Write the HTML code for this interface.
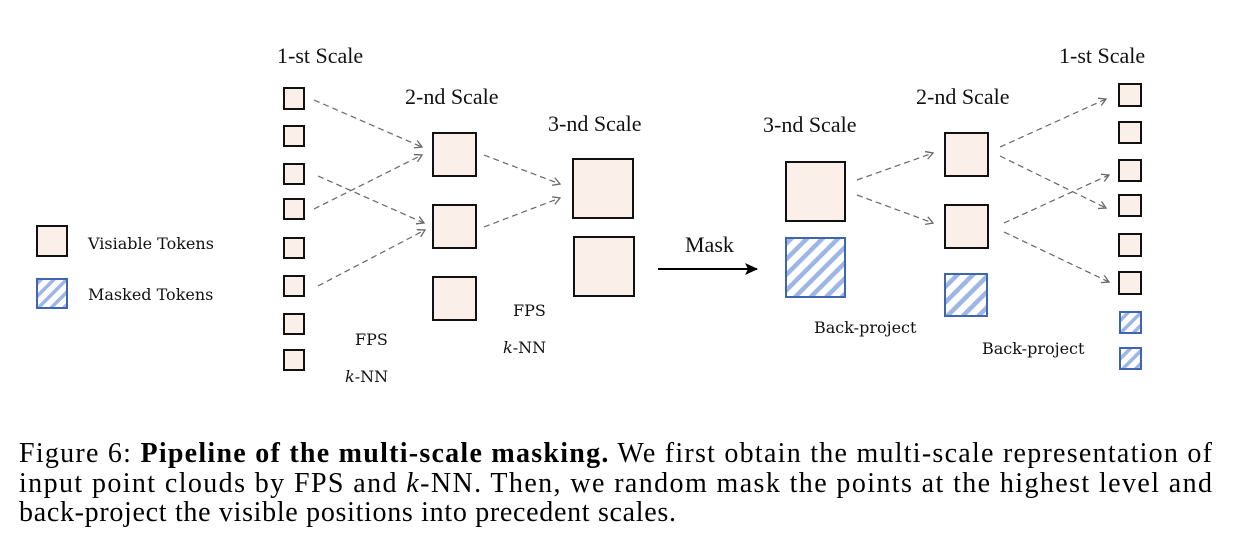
<!DOCTYPE html>
<html><head><meta charset="utf-8"><style>
html,body{margin:0;padding:0;background:#fff;}
svg{display:block;}
</style></head><body>
<svg width="1234" height="539" viewBox="0 0 1234 539" xmlns="http://www.w3.org/2000/svg">
<defs>
<pattern id="h" patternUnits="userSpaceOnUse" width="11" height="11" patternTransform="rotate(45)">
<rect width="11" height="11" fill="#fff"/>
<rect x="0" y="0" width="4.5" height="11" fill="#9db6e6"/>
</pattern>
<pattern id="hs" patternUnits="userSpaceOnUse" width="9" height="9" patternTransform="rotate(45)">
<rect width="9" height="9" fill="#fff"/>
<rect x="0" y="0" width="3.5" height="9" fill="#9db6e6"/>
</pattern>
<marker id="a" markerWidth="10" markerHeight="10" refX="8" refY="5" orient="auto" markerUnits="userSpaceOnUse">
<path d="M1,1 L8,5 L1,9" fill="none" stroke="#666" stroke-width="1.3"/>
</marker>
<marker id="b" markerWidth="14" markerHeight="12" refX="12" refY="6" orient="auto" markerUnits="userSpaceOnUse">
<path d="M0,0 L13,6 L0,12 L3,6 Z" fill="#000"/>
</marker>
</defs>
<g font-family="Liberation Serif, serif" fill="#111">
<g font-size="22">
<text x="277" y="63">1-st Scale</text>
<text x="405" y="104">2-nd Scale</text>
<text x="548" y="131">3-nd Scale</text>
<text x="763" y="132">3-nd Scale</text>
<text x="916" y="104">2-nd Scale</text>
<text x="1059" y="63">1-st Scale</text>
<text x="685" y="252">Mask</text>
</g>
<g font-size="16" font-family="DejaVu Serif, serif">
<text x="88" y="249">Visiable Tokens</text>
<text x="88" y="300">Masked Tokens</text>
<text x="355" y="345">FPS</text>
<text x="345" y="382"><tspan font-style="italic">k</tspan>-NN</text>
<text x="513" y="316">FPS</text>
<text x="503" y="353"><tspan font-style="italic">k</tspan>-NN</text>
<text x="814" y="333">Back-project</text>
<text x="982" y="354">Back-project</text>
</g>
</g>
<g fill="#fbefe9" stroke="#111" stroke-width="2">
<rect x="37" y="226" width="30" height="30"/>
<rect x="284" y="88" width="20" height="21"/>
<rect x="284" y="126" width="20" height="20"/>
<rect x="284" y="164" width="20" height="20"/>
<rect x="284" y="199" width="20" height="20"/>
<rect x="284" y="238" width="20" height="20"/>
<rect x="284" y="276" width="20" height="20"/>
<rect x="284" y="314" width="20" height="20"/>
<rect x="284" y="350" width="20" height="20"/>
<rect x="433" y="133" width="43" height="43"/>
<rect x="433" y="205" width="43" height="43"/>
<rect x="433" y="277" width="43" height="43"/>
<rect x="573" y="159" width="60" height="59"/>
<rect x="574" y="237" width="60" height="59"/>
<rect x="786" y="162" width="59" height="59"/>
<rect x="945" y="133" width="43" height="43"/>
<rect x="945" y="205" width="43" height="43"/>
<rect x="1119" y="84" width="22" height="22"/>
<rect x="1119" y="122" width="22" height="21"/>
<rect x="1119" y="160" width="22" height="21"/>
<rect x="1119" y="195" width="22" height="21"/>
<rect x="1119" y="234" width="22" height="22"/>
<rect x="1119" y="272" width="22" height="22"/>
</g>
<g stroke="#3f64b0" stroke-width="2">
<rect x="37" y="279" width="30" height="29" fill="url(#hs)"/>
<rect x="786" y="238" width="59" height="59" fill="url(#h)"/>
<rect x="945" y="274" width="42" height="42" fill="url(#h)"/>
<rect x="1120" y="312" width="21" height="21" fill="url(#hs)"/>
<rect x="1120" y="348" width="21" height="21" fill="url(#hs)"/>
</g>
<g stroke="#666" stroke-width="1.2" stroke-dasharray="6,4" fill="none" marker-end="url(#a)">
<line x1="314" y1="100" x2="422" y2="147"/>
<line x1="314" y1="209" x2="422" y2="155"/>
<line x1="318" y1="176" x2="424" y2="223"/>
<line x1="318" y1="286" x2="425" y2="230"/>
<line x1="484" y1="155" x2="560" y2="184"/>
<line x1="484" y1="227" x2="560" y2="198"/>
<line x1="857" y1="180" x2="933" y2="153"/>
<line x1="857" y1="195" x2="933" y2="223"/>
<line x1="1000" y1="147" x2="1106" y2="99"/>
<line x1="1000" y1="156" x2="1106" y2="208"/>
<line x1="1004" y1="223" x2="1109" y2="175"/>
<line x1="1004" y1="232" x2="1109" y2="282"/>
</g>
<line x1="658" y1="269" x2="757" y2="269" stroke="#000" stroke-width="2" marker-end="url(#b)"/>
<g font-family="Liberation Serif, serif" font-size="28" fill="#000">
<text x="19" y="462" textLength="1193" lengthAdjust="spacing">Figure 6: <tspan font-weight="bold">Pipeline of the multi-scale masking.</tspan> We first obtain the multi-scale representation of</text>
<text x="19" y="492" textLength="1193" lengthAdjust="spacing">input point clouds by FPS and <tspan font-style="italic">k</tspan>-NN. Then, we random mask the points at the highest level and</text>
<text x="19" y="521" textLength="657" lengthAdjust="spacing">back-project the visible positions into precedent scales.</text>
</g>
</svg>
</body></html>
